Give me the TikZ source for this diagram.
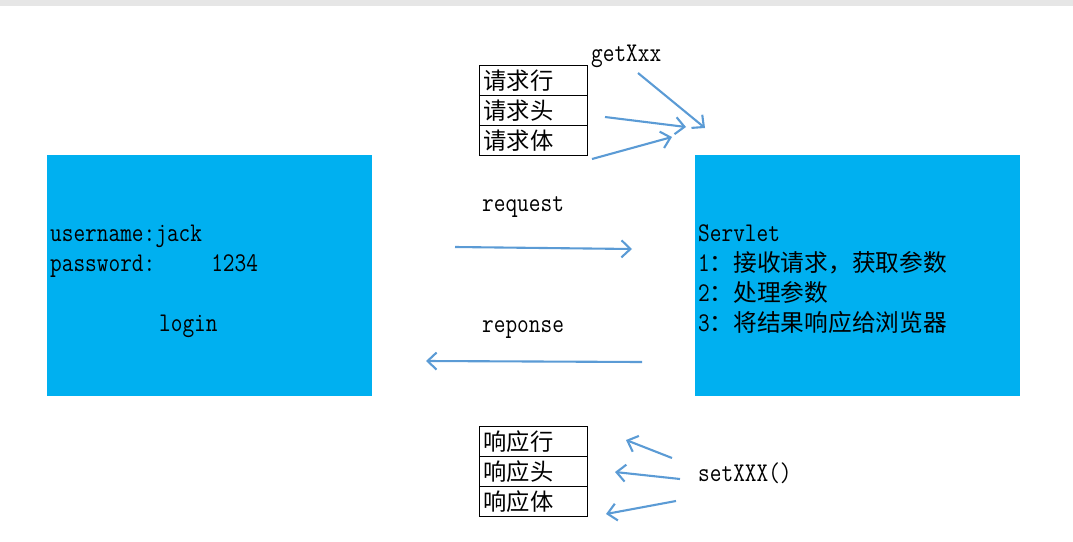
\documentclass[tikz,border=0pt]{standalone}
\usepackage{fontspec}
\usetikzlibrary{arrows.meta}
\newfontfamily\cjk{Noto Sans CJK SC}
\newfontfamily\lmono[FakeStretch=0.84]{Latin Modern Mono}
\definecolor{boxblue}{RGB}{0,176,240}
\definecolor{arrblue}{RGB}{91,155,213}
\definecolor{topgray}{RGB}{230,230,230}
\begin{document}
\begin{tikzpicture}[x=1pt,y=-1pt,
  lat/.style={font=\fontsize{27}{30}\lmono, inner sep=0pt, anchor=base west},
  cell/.style={draw=black, line width=1pt, minimum width=108pt, minimum height=30pt,
    text width=100pt, align=left, inner xsep=4pt, inner ysep=0pt, anchor=north west,
    font=\fontsize{23.3}{26}\cjk},
  panel/.style={fill=boxblue, draw=none},
  flow/.style={draw=arrblue, line width=2.1pt,
    -{Straight Barb[length=9pt,width=17pt,line width=2.1pt]}}]
\useasboundingbox (0,0) rectangle (1073,541);
\fill[topgray] (0,0) rectangle (1073,6);

% panels
\path[panel] (47,155) rectangle (372,396);
\path[panel] (695,155) rectangle (1020,396);

% left text
\node[lat] (user) at (50,241) {username:jack};
\node[lat] (pass) at (50,271) {password:\hspace{56pt}1234};
\node[lat] (login) at (159,331) {login};

% right text
\node[lat] (servlet) at (698,241) {Servlet};
\node[lat] (s1) at (698,271) {1{\fontsize{23.7}{28}\cjk ：接收请求，获取参数}};
\node[lat] (s2) at (698,301) {2{\fontsize{23.7}{28}\cjk ：处理参数}};
\node[lat] (s3) at (698,331) {3{\fontsize{23.7}{28}\cjk ：将结果响应给浏览器}};

% request table
\node[cell] (qline) at (479,65) {请求行};
\node[cell] (qhead) at (479,95) {请求头};
\node[cell] (qbody) at (479,125) {请求体};
\node[lat] (getx) at (591,61) {getXxx};

% response table
\node[cell] (pline) at (479,426) {响应行};
\node[cell] (phead) at (479,456) {响应头};
\node[cell] (pbody) at (479,486) {响应体};
\node[lat] (setx) at (698,481) {setXXX()};

% labels
\node[lat] (req) at (482,211) {request};
\node[lat] (resp) at (482,332) {reponse};

% arrow coordinates
\coordinate (a1s) at (638,73);  \coordinate (a1e) at (705,128);
\coordinate (a2s) at (605,117); \coordinate (a2e) at (686,127);
\coordinate (a3s) at (592,159); \coordinate (a3e) at (672,137);
\coordinate (rqs) at (455,247); \coordinate (rqe) at (632,249);
\coordinate (rss) at (642,362); \coordinate (rse) at (426,361);
\coordinate (b1s) at (672,458); \coordinate (b1e) at (626,440);
\coordinate (b2s) at (680,479); \coordinate (b2e) at (615,472);
\coordinate (b3s) at (676,501); \coordinate (b3e) at (606,514);

\draw[flow] (a1s) -- (a1e);
\draw[flow] (a2s) -- (a2e);
\draw[flow] (a3s) -- (a3e);
\draw[flow] (rqs) -- (rqe);
\draw[flow] (rss) -- (rse);
\draw[flow] (b1s) -- (b1e);
\draw[flow] (b2s) -- (b2e);
\draw[flow] (b3s) -- (b3e);
\end{tikzpicture}
\end{document}
